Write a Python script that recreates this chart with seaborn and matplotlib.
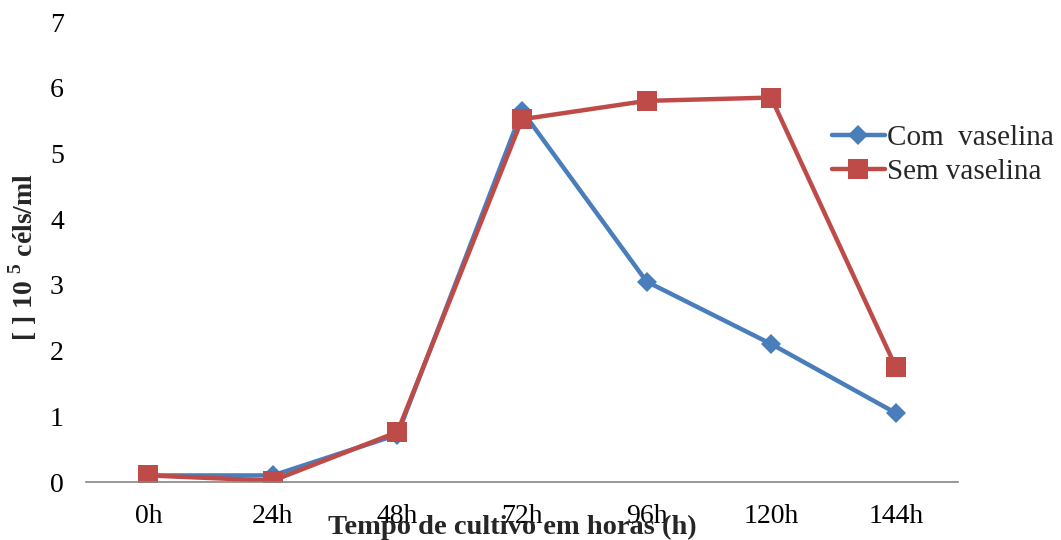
import matplotlib
matplotlib.use("Agg")
import matplotlib.pyplot as plt
import seaborn as sns
import pandas as pd

# Cell concentration (x10^5 cells/ml) over culture time
tempos = ["0h", "24h", "48h", "72h", "96h", "120h", "144h"]
com_vaselina = [0.10, 0.10, 0.72, 5.65, 3.05, 2.10, 1.05]
sem_vaselina = [0.10, 0.02, 0.76, 5.52, 5.80, 5.85, 1.75]

sns.set_theme(style="white")
plt.rcParams["font.family"] = ["Liberation Serif", "DejaVu Serif"]
plt.rcParams["mathtext.fontset"] = "custom"
plt.rcParams["mathtext.rm"] = "Liberation Serif:bold"
plt.rcParams["mathtext.bf"] = "Liberation Serif:bold"

fig = plt.figure(figsize=(10.61, 5.40), dpi=100)
ax = fig.add_axes([86 / 1061, 58 / 540, 872 / 1061, 460 / 540])

df = pd.DataFrame({"tempo": tempos, "com": com_vaselina, "sem": sem_vaselina})

sns.lineplot(data=df, x="tempo", y="com", ax=ax, sort=False, color="#4A7EBB",
             linewidth=3.2, marker="D", markersize=10, markeredgewidth=0,
             label="Com  vaselina")
sns.lineplot(data=df, x="tempo", y="sem", ax=ax, sort=False, color="#BE4B48",
             linewidth=3.2, marker="s", markersize=14.5, markeredgewidth=0,
             label="Sem vaselina")

ax.set_xlim(-0.5, 6.5)
ax.set_ylim(0, 7)
ax.set_yticks(range(0, 8))
ax.tick_params(axis="both", length=0, labelsize=20, colors="black")
ax.tick_params(axis="y", pad=16)
ax.tick_params(axis="x", pad=16)

sns.despine(ax=ax, left=True, top=True, right=True)
ax.spines["bottom"].set_color("#868686")
ax.spines["bottom"].set_linewidth(1.2)
ax.grid(False)

ax.set_xlabel("")
ax.set_ylabel(r"[ ] 10 $^{5}$ céls/ml", fontsize=20, fontweight="bold")
ax.yaxis.set_label_coords(-47 / 872, 0.49)
fig.text(512 / 1061, 1 - 527 / 540, "Tempo de cultivo em horas (h)",
         ha="center", va="center", fontsize=20.5, fontweight="bold")

ax.legend(loc="center left", bbox_to_anchor=(832 / 1061, 1 - 155 / 540),
          bbox_transform=fig.transFigure, frameon=False, fontsize=21,
          handlelength=1.8, handletextpad=0.1, labelspacing=0.25,
          borderpad=0, borderaxespad=0)

fig.savefig("out.png", dpi=100)
